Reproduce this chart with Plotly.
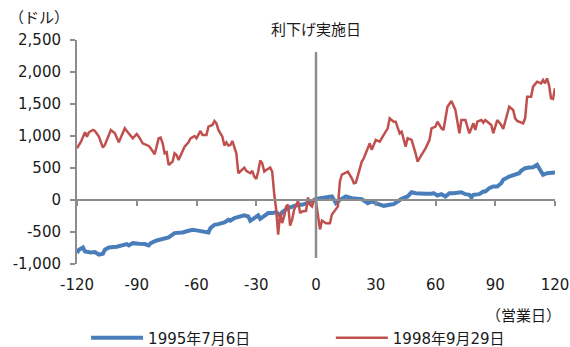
import plotly.graph_objects as go

# Day offsets (business days relative to the rate-cut date) and dollar changes
blue_days = [-120, -119, -117, -116, -113, -111, -109, -107, -106, -104, -100, -97, -95, -94,
             -92, -89, -86, -84, -83, -80, -77, -74, -71, -69, -67, -64, -62, -60, -59, -55,
             -54, -53, -51, -49, -46, -44, -43, -41, -38, -36, -34, -33, -31, -29, -28, -26,
             -24, -22, -20, -18, -17, -14, -12, -9, -7, -4, -2, 0,
             3, 6, 8, 9, 10, 12, 15, 18, 21, 23, 26, 28, 31, 34, 37, 39, 41, 43, 46, 48, 50,
             53, 55, 58, 59, 61, 63, 65, 67, 69, 72, 73, 75, 77, 78, 79, 82, 84, 85, 87, 89,
             91, 93, 94, 97, 99, 102, 103, 105, 107, 109, 111, 112, 114, 116, 117, 119, 120]
blue_vals = [-829, -777, -741, -803, -819, -814, -855, -840, -777, -741, -731, -699, -689, -710,
             -674, -684, -689, -710, -674, -632, -606, -585, -517, -517, -507, -481, -465, -475, -481, -491,
             -507, -439, -387, -377, -351, -309, -325, -283, -263, -241, -257, -325, -283, -241, -294, -257,
             -205, -205, -190, -241, -190, -127, -101, -75, -75, -49, -23, 18,
             29, 55, 55, 3, -49, 3, 55, 29, 18, 13, -49, -23, -60, -91, -75, -65, -23, 18, 55, 122, 107,
             91, 96, 96, 107, 70, 91, 55, 107, 107, 107, 122, 91, 81, 39, 81, 91, 133, 133, 185, 211,
             211, 263, 315, 367, 393, 419, 455, 497, 507, 512, 549, 497, 393, 419, 419, 434, 429]

red_days = [-120, -118, -116, -115, -114, -112, -111, -109, -107, -106, -103, -101, -99, -96,
            -95, -92, -90, -89, -87, -85, -84, -83, -81, -79, -78, -77, -76, -75, -74, -72,
            -71, -70, -69, -66, -65, -64, -63, -61, -60, -59, -58, -57, -55, -54, -52, -51,
            -50, -49, -47, -46, -45, -44, -43, -42, -40, -39, -37, -36, -35, -33, -32, -31,
            -30, -29, -28, -27, -26, -25, -23, -22, -21, -20, -19, -18, -17, -16, -15, -14,
            -13, -12, -11, -10, -9, -8, -7, -5, -4, -3, -2, -1, 0,
            2, 3, 5, 7, 8, 10, 11, 12, 13, 16, 18, 19, 20, 23, 24, 27, 28, 30, 32, 34, 36,
            37, 39, 40, 42, 43, 45, 46, 48, 50, 51, 53, 55, 57, 58, 60, 61, 63, 64, 66, 68,
            70, 72, 73, 75, 77, 79, 80, 81, 83, 84, 85, 87, 88, 89, 91, 93, 94, 95, 97, 99,
            100, 101, 104, 105, 106, 108, 109, 111, 113, 114, 115, 116, 117, 118, 119, 120]
red_vals = [808, 912, 1058, 990, 1058, 1094, 1079, 990, 819, 860, 1094, 1042, 902, 1120,
            1079, 964, 1032, 990, 886, 860, 844, 808, 715, 964, 975, 886, 730, 746, 548, 600,
            730, 704, 626, 834, 870, 900, 964, 1000, 964, 1016, 1079, 1016, 1016, 1146, 1172, 1235,
            1198, 1094, 990, 850, 900, 850, 860, 923, 730, 418, 470, 506, 455, 418, 455, 366,
            330, 444, 616, 574, 444, 470, 506, 444, 100, -150, -543, -200, -361, -257, -101, -75,
            -400, -309, -153, -75, -13, -205, -179, -169, 39, -75, -101, 3, -23,
            -460, -320, -362, -362, -226, -148, -100, 289, 398, 445, 340, 262, 270, 600, 652, 886, 783, 939, 913, 1017, 1120,
            1276, 1224, 1224, 1042, 1068, 834, 964, 939, 730, 600, 705, 808, 939, 1120, 1146, 1224, 1120, 1094, 1458, 1547,
            1406, 1042, 1250, 1250, 1042, 1198, 1094, 1224, 1250, 1209, 1250, 1198, 1172, 1042, 1250, 1172, 1110, 1224, 1458, 1406,
            1276, 1235, 1198, 1276, 1615, 1615, 1771, 1849, 1823, 1875, 1823, 1900, 1797, 1589, 1580, 1745]

series_names = ["1995年7月6日", "1998年9月29日"]
y_tickvals = [-1000, -500, 0, 500, 1000, 1500, 2000, 2500]
y_ticktext = ["-1,000", "-500", "0", "500", "1,000", "1,500", "2,000", "2,500"]
x_tickvals = [-120, -90, -60, -30, 0, 30, 60, 90, 120]
x_ticktext = ["-120", "-90", "-60", "-30", "0", "30", "60", "90", "120"]
event_day = 0

FONT = "DejaVu Sans, Noto Sans CJK JP, sans-serif"
AXIS_GREY = "#8c8c8c"
TEXT = "#1a1a1a"

fig = go.Figure()
fig.add_trace(go.Scatter(x=blue_days, y=blue_vals, mode="lines", name=series_names[0],
                         line=dict(color="#4a7ebb", width=4), legend="legend"))
fig.add_trace(go.Scatter(x=red_days, y=red_vals, mode="lines", name=series_names[1],
                         line=dict(color="#c0504d", width=2.5), legend="legend2"))
# carrier trace for the axis drawn along the zero level
fig.add_trace(go.Scatter(x=[x_tickvals[0]], y=[0], xaxis="x2", mode="markers",
                         marker=dict(opacity=0), showlegend=False, hoverinfo="skip"))

y_lo, y_hi = y_tickvals[0], y_tickvals[-1]
zero_pos = (0 - y_lo) / (y_hi - y_lo)

legend_style = dict(orientation="h", y=-0.33, xanchor="left", yanchor="middle",
                    itemwidth=52, font=dict(size=15, color=TEXT), bgcolor="rgba(0,0,0,0)")

fig.update_layout(
    width=570, height=347,
    margin=dict(l=77, r=15, t=40, b=83, autoexpand=False),
    paper_bgcolor="white", plot_bgcolor="white",
    font=dict(family=FONT, size=15, color=TEXT),
    xaxis=dict(range=[x_tickvals[0], x_tickvals[-1]], tickvals=x_tickvals, ticktext=x_ticktext,
               showgrid=False, zeroline=False, showline=False, ticks="",
               ticklabelstandoff=10, tickfont=dict(size=15, color=TEXT)),
    xaxis2=dict(range=[x_tickvals[0], x_tickvals[-1]], overlaying="x", anchor="free",
                position=zero_pos, side="bottom", tickvals=x_tickvals, showticklabels=False,
                showgrid=False, zeroline=False, showline=True, linecolor=AXIS_GREY, linewidth=2,
                ticks="outside", ticklen=5, tickwidth=1.5, tickcolor=AXIS_GREY),
    yaxis=dict(range=[y_lo, y_hi], tickvals=y_tickvals, ticktext=y_ticktext,
               showgrid=False, zeroline=False, showline=True, linecolor=AXIS_GREY, linewidth=2,
               ticks="outside", ticklen=5, tickwidth=1.5, tickcolor=AXIS_GREY,
               ticklabelstandoff=6, tickfont=dict(size=15, color=TEXT)),
    legend=dict(x=0.019, **legend_style),
    legend2=dict(x=0.531, **legend_style),
    showlegend=True,
)

# vertical marker for the rate-cut date
fig.add_shape(type="line", xref="x", yref="paper", x0=event_day, x1=event_day,
              y0=0.027, y1=0.946, line=dict(color=AXIS_GREY, width=2.5))

fig.add_annotation(x=event_day, xref="x", y=1.045, yref="paper", text="利下げ実施日",
                   showarrow=False, xanchor="center", yanchor="middle",
                   font=dict(size=15, color=TEXT))
fig.add_annotation(x=-0.08, xref="paper", y=1.098, yref="paper", text="（ドル）",
                   showarrow=False, xanchor="center", yanchor="middle",
                   font=dict(size=15, color=TEXT))
fig.add_annotation(x=1.017, xref="paper", y=-0.232, yref="paper", text="（営業日）",
                   showarrow=False, xanchor="right", yanchor="middle",
                   font=dict(size=15, color=TEXT))

fig.write_html("out.html")
